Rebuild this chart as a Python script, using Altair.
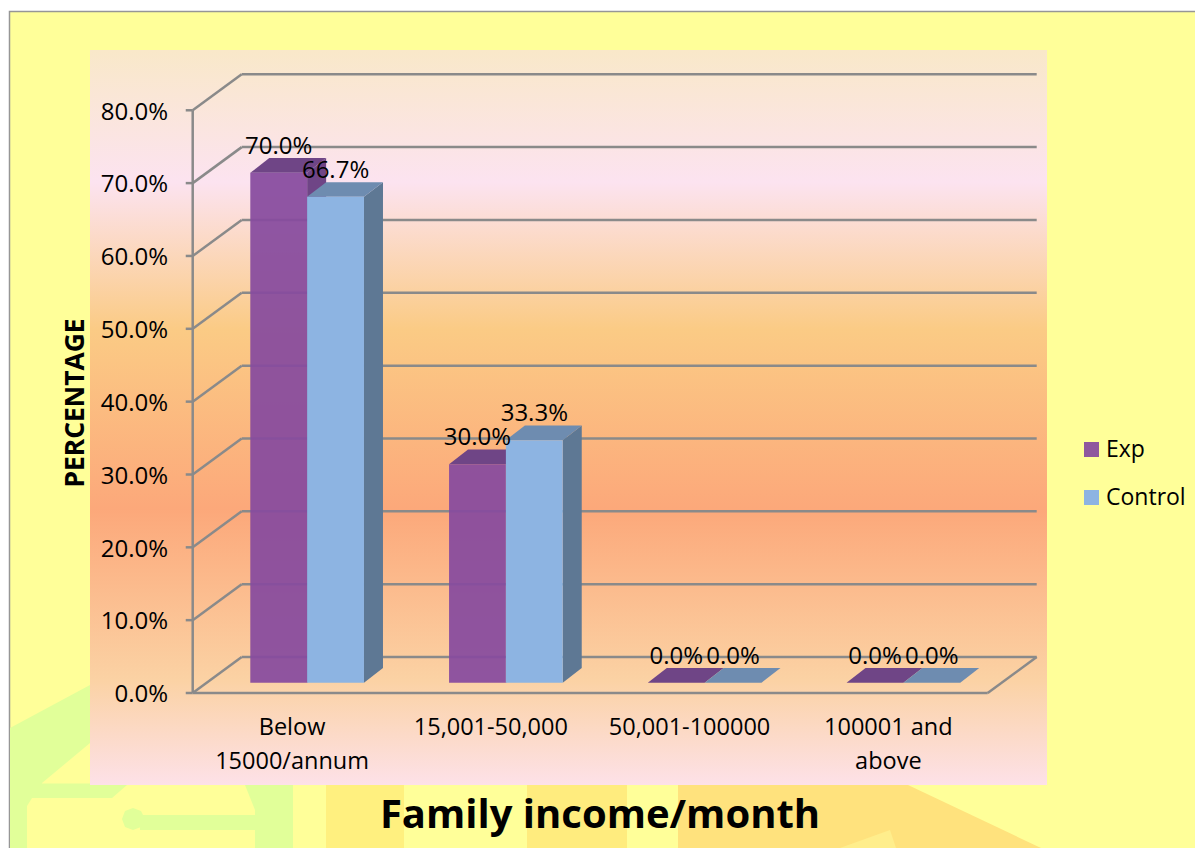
import altair as alt
import pandas as pd

categories = [["Below", "15000/annum"], ["15,001-50,000"], ["50,001-100000"], ["100001 and", "above"]]
series = ["Exp", "Control"]
exp_values = [70.0, 30.0, 0.0, 0.0]
control_values = [66.7, 33.3, 0.0, 0.0]
y_ticks = [0, 10, 20, 30, 40, 50, 60, 70, 80]
front_colors = ["#864A9E", "#8DB4E2"]
top_colors = ["#6F4586", "#6E8CB0"]
side_colors = ["#6F4586", "#5E7894"]
FONT = "Open Sans"

W, H = 1187, 840
OX, OY = 192.7, 693.0      # page pixel of the origin
UX, UY = 198.75, 7.284     # pixels per category, per percentage point


def px(p):
    return (p - OX) / UX


def py(p):
    return (OY - p) / UY


X = alt.Scale(domain=[px(8), px(8 + W)], range=[0, W], nice=False, zero=False, padding=0)
Y = alt.Scale(domain=[py(8 + H), py(8)], range=[H, 0], nice=False, zero=False, padding=0)
xq = lambda f: alt.X(f, type="quantitative", scale=X, axis=None)
yq = lambda f: alt.Y(f, type="quantitative", scale=Y, axis=None)

WALL_DX, WALL_DY = 49 / UX, 36 / UY
BAR_DX, BAR_DY = 19 / UX, 14.7 / UY
BAR_BASE = 10.3 / UY
BAR_START, BAR_W = 0.2898, 0.286


def poly(points, color):
    """points: (x, ytop, ybottom) in page pixels"""
    d = pd.DataFrame([{"x": px(a), "y": py(b), "y2": py(c)} for a, b, c in points])
    return alt.Chart(d).mark_area(color=color, opacity=1, interpolate="linear").encode(
        x=xq("x"), y=yq("y"), y2="y2")


def box(x0, y0, x1, y1, **kw):
    d = pd.DataFrame([{"x": px(x0), "x2": px(x1), "y": py(y0), "y2": py(y1)}])
    return alt.Chart(d).mark_rect(**kw).encode(x=xq("x"), x2="x2", y=yq("y"), y2="y2")


layers = []
layers.append(box(9.5, 11.5, 1210, 860, fill="#FFFF99", stroke="#969696", strokeWidth=1.5))
layers += [
    poly([(10, 728, 848), (90, 685, 848), (293, 685, 848)], "#E1FF99"),
    poly([(42, 783, 783.5), (90, 743, 783.5), (130, 743, 783.5)], "#FFFF99"),
    poly([(27, 806, 848), (32, 798, 848), (112, 798, 848), (127, 785, 848), (245, 785, 848), (255, 810, 848), (255, 848, 848)], "#FFFF99"),
    box(140, 815, 262, 830, fill="#E1FF99"),
    poly([(122, 819, 819), (125, 811, 827), (133, 808, 830), (141, 811, 827), (145, 819, 819)], "#E1FF99"),
    box(293, 785, 326, 848, fill="#FFFF99"),
    box(326, 785, 404, 848, fill="#FFF07F"),
    box(527, 785, 627, 848, fill="#FFEC7E"),
    poly([(678, 785, 848), (908, 785, 848), (1041, 848, 848)], "#FFE27D"),
    poly([(840, 848, 848), (890, 830, 848), (896, 848, 848)], "#FFEE8C"),
]
gradient = alt.LinearGradient(
    gradient="linear", x1=0, x2=0, y1=0, y2=1,
    stops=[
        alt.GradientStop(color="#F9E8C9", offset=0),
        alt.GradientStop(color="#FCE3F0", offset=0.18),
        alt.GradientStop(color="#FBCB85", offset=0.38),
        alt.GradientStop(color="#FCA87A", offset=0.625),
        alt.GradientStop(color="#FBD2A4", offset=0.857),
        alt.GradientStop(color="#FDE1E8", offset=1),
    ],
)
layers.append(box(90, 50, 1047, 785, fill=gradient))

rules = []
for t in y_ticks:
    rules.append({"x": 0, "x2": WALL_DX, "y": t, "y2": t + WALL_DY})
    rules.append({"x": WALL_DX, "x2": 4 + WALL_DX, "y": t + WALL_DY, "y2": t + WALL_DY})
    rules.append({"x": -0.035, "x2": 0, "y": t, "y2": t})
rules.append({"x": 0, "x2": 0, "y": 0, "y2": 80})
rules.append({"x": 0, "x2": 4, "y": 0, "y2": 0})
rules.append({"x": 4, "x2": 4 + WALL_DX, "y": 0, "y2": WALL_DY})
layers.append(
    alt.Chart(pd.DataFrame(rules)).mark_rule(color="#8A8A8A", strokeWidth=2.5).encode(
        x=xq("x"), x2="x2", y=yq("y"), y2="y2")
)

rows = []
for s, vals in enumerate([exp_values, control_values]):
    for i, v in enumerate(vals):
        x0 = i + BAR_START + s * BAR_W
        rows.append({"series": series[s], "s": s, "x0": x0, "x1": x0 + BAR_W, "val": v,
                     "base": BAR_BASE, "top": BAR_BASE + v, "label": f"{v:.1f}%",
                     "xc": x0 + BAR_W / 2, "ly": BAR_BASE + v + 3.55})
bars = pd.DataFrame(rows)

for s in range(2):
    side, top = [], []
    for _, r in bars[bars.s == s].iterrows():
        key = f"{r.x0}"
        if r.val > 0:
            side.append({"k": key, "x": r.x1, "y": r.base, "y2": r.top})
            side.append({"k": key, "x": r.x1 + BAR_DX, "y": r.base + BAR_DY, "y2": r.top + BAR_DY})
        top.append({"k": key, "y": r.top, "x": r.x0, "x2": r.x1})
        top.append({"k": key, "y": r.top + BAR_DY, "x": r.x0 + BAR_DX, "x2": r.x1 + BAR_DX})
    layers.append(
        alt.Chart(pd.DataFrame(side)).mark_area(color=side_colors[s], orient="vertical").encode(
            x=xq("x"), y=yq("y"), y2="y2", detail="k:N")
    )
    layers.append(
        alt.Chart(pd.DataFrame(top)).mark_area(color=top_colors[s], orient="horizontal").encode(
            y=yq("y"), x=xq("x"), x2="x2", detail="k:N")
    )

layers.append(
    alt.Chart(bars).mark_rect().encode(
        x=xq("x0"), x2="x1", y=yq("base"), y2="top",
        opacity=alt.Opacity("series:N", scale=alt.Scale(domain=series, range=[0.93, 1.0]), legend=None),
        color=alt.Color(
            "series:N",
            scale=alt.Scale(domain=series, range=front_colors),
            legend=alt.Legend(
                orient="none", legendX=1072, legendY=430, title=None, symbolType="square",
                symbolSize=225, symbolStrokeWidth=0, labelFont=FONT, labelFontSize=23,
                labelColor="black", rowPadding=24, labelOffset=3, symbolOpacity=1,
            ),
        ),
    )
)

layers.append(
    alt.Chart(bars).mark_text(font=FONT, fontSize=24, color="black").encode(
        x=xq("xc"), y=yq("ly"), text="label:N")
)
tick_df = pd.DataFrame({"y": [t - 2.3 / UY for t in y_ticks], "x": [px(168)] * len(y_ticks),
                        "t": [f"{t:.1f}%" for t in y_ticks]})
layers.append(
    alt.Chart(tick_df).mark_text(font=FONT, fontSize=24, color="black", align="right").encode(
        x=xq("x"), y=yq("y"), text="t:N")
)
cat_rows = []
for i, lines in enumerate(categories):
    for j, line in enumerate(lines):
        cat_rows.append({"x": i + 0.5, "y": py(728 + 34 * j), "t": line})
layers.append(
    alt.Chart(pd.DataFrame(cat_rows)).mark_text(font=FONT, fontSize=23.5, color="black").encode(
        x=xq("x"), y=yq("y"), text="t:N")
)
layers.append(
    alt.Chart(pd.DataFrame({"x": [px(76)], "y": [py(403)], "t": ["PERCENTAGE"]}))
    .mark_text(font=FONT, fontSize=26.4, fontWeight="bold", color="black", angle=270)
    .encode(x=xq("x"), y=yq("y"), text="t:N")
)
layers.append(
    alt.Chart(pd.DataFrame({"x": [px(600)], "y": [py(816)], "t": ["Family income/month"]}))
    .mark_text(font=FONT, fontSize=40, fontWeight="bold", color="black")
    .encode(x=xq("x"), y=yq("y"), text="t:N")
)

chart = (
    alt.layer(*layers)
    .properties(width=W, height=H, padding=0, autosize=alt.AutoSizeParams(type="none"), background="white")
    .configure_view(stroke=None)
    .resolve_scale(x="shared", y="shared")
)
chart.save("out.html", embed_options={"renderer": "svg", "actions": False})
